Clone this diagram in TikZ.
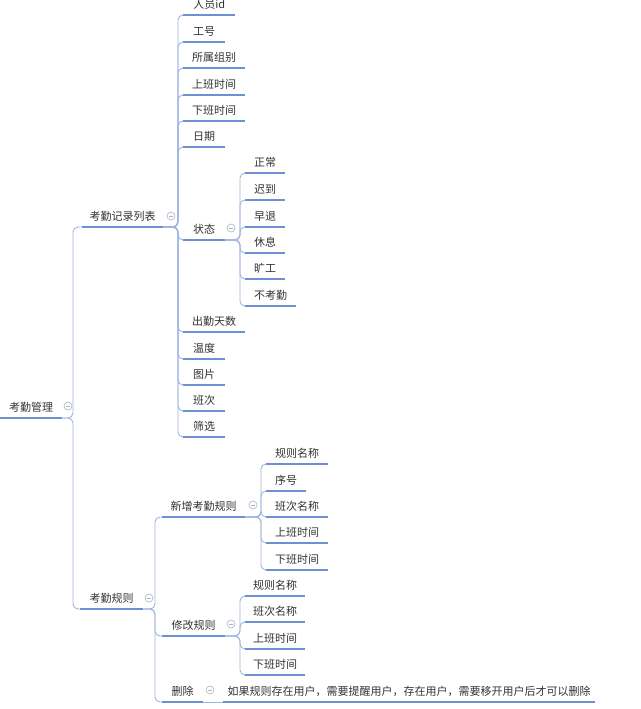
\documentclass[tikz,border=0pt]{standalone}
\usepackage{fontspec}
\newfontfamily\cjk{Noto Sans CJK SC}
\definecolor{uline}{HTML}{6E8FD0}
\definecolor{conn}{HTML}{9FB4DE}
\definecolor{txt}{HTML}{333333}
\definecolor{tog}{HTML}{A8B4C8}
\begin{document}
\begin{tikzpicture}[x=1pt,y=-1pt,
 topic/.style={anchor=south west, font=\cjk\fontsize{11}{13}\selectfont, text=txt, inner xsep=0pt, inner ysep=2pt, text height=9pt, text depth=4pt, align=center},
 ul/.style={draw=uline, line width=1.6pt},
 cn/.style={draw=conn, line width=0.9pt, rounded corners=5pt},
 tg/.style={circle, draw=tog, fill=white, line width=0.6pt, minimum size=8pt, inner sep=0pt,
   path picture={\draw[tog, line width=0.6pt] ([xshift=-2pt]path picture bounding box.center) -- ([xshift=2pt]path picture bounding box.center);}}
]
\useasboundingbox (0,0) rectangle (640,709);
\clip (0,0) rectangle (640,709);
\fill[white] (0,0) rectangle (640,709);

% nodes
\node[topic, minimum width=62pt] (root) at (0,418) {考勤管理};
\node[topic, minimum width=81pt] (r1) at (82,227) {考勤记录列表};
\node[topic, minimum width=63pt] (r2) at (80,609) {考勤规则};

\node[topic, minimum width=52pt] (a1) at (183,15) {人员id};
\node[topic, minimum width=42pt] (a2) at (183,42) {工号};
\node[topic, minimum width=62pt] (a3) at (183,68) {所属组别};
\node[topic, minimum width=62pt] (a4) at (183,95) {上班时间};
\node[topic, minimum width=62pt] (a5) at (183,121) {下班时间};
\node[topic, minimum width=42pt] (a6) at (183,147) {日期};
\node[topic, minimum width=42pt] (a7) at (183,240) {状态};
\node[topic, minimum width=62pt] (a8) at (183,332) {出勤天数};
\node[topic, minimum width=42pt] (a9) at (183,359) {温度};
\node[topic, minimum width=42pt] (a10) at (183,385) {图片};
\node[topic, minimum width=42pt] (a11) at (183,411) {班次};
\node[topic, minimum width=42pt] (a12) at (183,437) {筛选};

\node[topic, minimum width=40pt] (s1) at (245,173) {正常};
\node[topic, minimum width=40pt] (s2) at (245,200) {迟到};
\node[topic, minimum width=40pt] (s3) at (245,227) {早退};
\node[topic, minimum width=40pt] (s4) at (245,253) {休息};
\node[topic, minimum width=40pt] (s5) at (245,279) {旷工};
\node[topic, minimum width=51pt] (s6) at (245,306) {不考勤};

\node[topic, minimum width=83pt] (b1) at (162,517) {新增考勤规则};
\node[topic, minimum width=63pt] (b2) at (162,636) {修改规则};
\node[topic, minimum width=41pt] (b3) at (162,702) {删除};

\node[topic, minimum width=62pt] (n1) at (266,464) {规则名称};
\node[topic, minimum width=40pt] (n2) at (266,491) {序号};
\node[topic, minimum width=62pt] (n3) at (266,517) {班次名称};
\node[topic, minimum width=62pt] (n4) at (266,543) {上班时间};
\node[topic, minimum width=62pt] (n5) at (266,570) {下班时间};

\node[topic, minimum width=60pt] (m1) at (245,596) {规则名称};
\node[topic, minimum width=60pt] (m2) at (245,622) {班次名称};
\node[topic, minimum width=60pt] (m3) at (245,649) {上班时间};
\node[topic, minimum width=60pt] (m4) at (245,675) {下班时间};

\node[topic, minimum width=372pt] (d1) at (223,702) {如果规则存在用户，需要提醒用户，存在用户，需要移开用户后才可以删除};

% trunk x positions
\coordinate (t0) at (73,0);
\coordinate (t1) at (178,0);
\coordinate (t2) at (155,0);
\coordinate (t3) at (240,0);
\coordinate (t4) at (261,0);
\coordinate (t5) at (240,0);

% connectors
\foreach \c in {r1,r2}
  \draw[cn] (root.south east) -| (t0 |- \c.south west) -- (\c.south west);
\foreach \c in {a1,a2,a3,a4,a5,a6,a7,a8,a9,a10,a11,a12}
  \draw[cn] (r1.south east) -| (t1 |- \c.south west) -- (\c.south west);
\foreach \c in {s1,s2,s3,s4,s5,s6}
  \draw[cn] (a7.south east) -| (t3 |- \c.south west) -- (\c.south west);
\foreach \c in {b1,b2,b3}
  \draw[cn] (r2.south east) -| (t2 |- \c.south west) -- (\c.south west);
\foreach \c in {n1,n2,n3,n4,n5}
  \draw[cn] (b1.south east) -| (t4 |- \c.south west) -- (\c.south west);
\foreach \c in {m1,m2,m3,m4}
  \draw[cn] (b2.south east) -| (t5 |- \c.south west) -- (\c.south west);
\draw[cn] (b3.south east) -- (d1.south west);

% underlines
\foreach \n in {root,r1,r2,a1,a2,a3,a4,a5,a6,a7,a8,a9,a10,a11,a12,s1,s2,s3,s4,s5,s6,b1,b2,b3,n1,n2,n3,n4,n5,m1,m2,m3,m4,d1}
  \draw[ul] (\n.south west) -- (\n.south east);

% collapse toggles
\node[tg] (g0) at (68,406) {};
\node[tg] (g1) at (171,216) {};
\node[tg] (g2) at (149,598) {};
\node[tg] (g3) at (231,228) {};
\node[tg] (g4) at (253,505) {};
\node[tg] (g5) at (231,624) {};
\node[tg] (g6) at (210,690) {};
\end{tikzpicture}
\end{document}
